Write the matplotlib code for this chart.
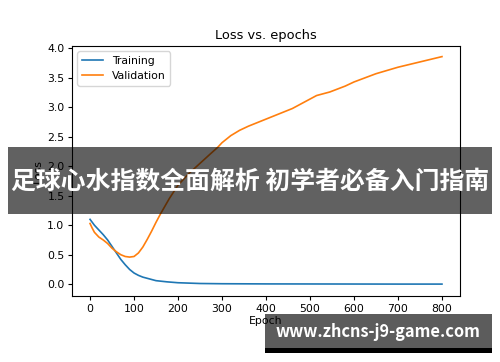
import matplotlib
matplotlib.use('Agg')
import matplotlib.pyplot as plt
from matplotlib.patches import Rectangle

# Loss values
train_epochs = [0, 10, 20, 30, 40, 50, 60, 70, 80, 90, 100, 110, 120, 130, 140,
                150, 175, 200, 250, 300, 400, 500, 600, 700, 800]
train_loss = [1.10, 1.00, 0.92, 0.84, 0.75, 0.64, 0.53, 0.42, 0.33, 0.25, 0.19,
              0.15, 0.12, 0.10, 0.08, 0.06, 0.04, 0.025, 0.012, 0.008, 0.005,
              0.004, 0.003, 0.002, 0.002]

val_epochs = [0, 5, 10, 20, 30, 40, 50, 60, 70, 80, 90, 100, 110, 120, 130, 140,
              150, 160, 170, 180, 200, 225, 250, 275, 290, 300, 320, 340, 360,
              380, 400, 420, 440, 460, 480, 500, 515, 545, 580, 600, 650, 700,
              750, 800]
val_loss = [1.03, 0.95, 0.88, 0.80, 0.75, 0.69, 0.61, 0.55, 0.50, 0.47, 0.46,
            0.47, 0.53, 0.63, 0.76, 0.90, 1.05, 1.19, 1.32, 1.45, 1.68, 1.88,
            2.05, 2.22, 2.32, 2.40, 2.52, 2.61, 2.68, 2.74, 2.80, 2.86, 2.92,
            2.98, 3.06, 3.14, 3.20, 3.26, 3.36, 3.43, 3.57, 3.68, 3.77, 3.86]

banner_text = '足球心水指数全面解析 初学者必备入门指南'
site_text = 'www.zhcns-j9-game.com'

W, H = 500, 362
fig = plt.figure(figsize=(W / 100, H / 100), dpi=100)
fig.patch.set_facecolor('white')
ax = fig.add_axes([72 / W, 1 - 296 / H, (460 - 72) / W, (296 - 46) / H])

ax.plot(train_epochs, train_loss, color='#1f77b4', linewidth=1.2, label='Training')
ax.plot(val_epochs, val_loss, color='#ff7f0e', linewidth=1.2, label='Validation')
ax.set_title('Loss vs. epochs', fontsize=9.4, pad=5)
ax.set_xlabel('Epoch', fontsize=7.8, labelpad=2)
ax.set_ylabel('Loss', fontsize=7.8, labelpad=3)
ax.tick_params(labelsize=7.8, length=2.7, pad=2.7)
ax.set_xticks([0, 100, 200, 300, 400, 500, 600, 700, 800])
ax.set_yticks([0.0, 0.5, 1.0, 1.5, 2.0, 2.5, 3.0, 3.5, 4.0])
ax.set_ylim(-0.2, 4.04)
ax.set_xlim(-41, 841)
ax.legend(loc='upper left', fontsize=7.8, handlelength=2.0)

# Overlaid banner
fig.patches.append(Rectangle((8 / W, 1 - 214 / H), 484 / W, 67 / H,
                             transform=fig.transFigure, facecolor='black',
                             alpha=0.62, edgecolor='none', zorder=5))
fig.text(250 / W, 1 - 182 / H, banner_text, ha='center', va='center',
         color='white', fontsize=17.9, fontweight='bold',
         family=['Noto Sans CJK SC', 'DejaVu Sans'], zorder=6)

# Watermark box
fig.patches.append(Rectangle((265 / W, 1 - 348 / H), 227 / W, 34 / H,
                             transform=fig.transFigure, facecolor='black',
                             alpha=0.64, edgecolor='none', zorder=5))
fig.patches.append(Rectangle((265 / W, 1 - 353 / H), 227 / W, 5 / H,
                             transform=fig.transFigure, facecolor='black',
                             edgecolor='none', zorder=5))
fig.text(378 / W, 1 - 332 / H, site_text, ha='center', va='center',
         color='white', fontsize=11.8, fontweight='bold',
         family=['Noto Sans CJK SC', 'DejaVu Sans'], zorder=6)

fig.savefig('out.png', dpi=100)
